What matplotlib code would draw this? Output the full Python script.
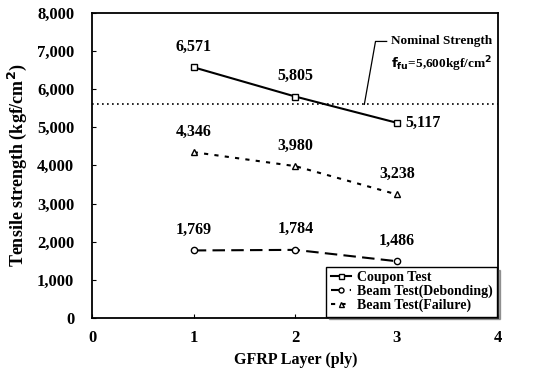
import matplotlib.pyplot as plt
import numpy as np

plt.rcParams['font.family'] = ['Liberation Serif', 'DejaVu Serif']
plt.rcParams['font.weight'] = 'bold'

layers = [1, 2, 3]
coupon = [6571, 5805, 5117]
debonding = [1769, 1784, 1486]
failure = [4346, 3980, 3238]
nominal = 5600

fig = plt.figure(figsize=(5.33, 3.78), dpi=100)
ax = fig.add_axes([0.173, 0.159, 0.762, 0.807])

ax.axhline(nominal, color='black', linestyle=(0, (1, 2)), linewidth=1.2)
ax.plot(layers, coupon, 'k-', marker='s', mfc='white', ms=4.5, lw=1.5, label='Coupon Test')
ax.plot(layers, debonding, 'k', linestyle=(0, (6, 3)), marker='o', mfc='white', ms=4.5, lw=1.5,
        label='Beam Test(Debonding)')
ax.plot(layers, failure, 'k', linestyle=(0, (2, 3)), marker='^', mfc='white', ms=4.5, lw=1.5,
        label='Beam Test(Failure)')

for series in (coupon, debonding, failure):
    for i, (x, y) in enumerate(zip(layers, series)):
        if series is coupon and i == 2:
            ax.text(x + 0.08, y, f'{y:,}', ha='left', va='center', fontsize=11.5)
        else:
            ax.text(x, y + 330, f'{y:,}', ha='center', va='bottom', fontsize=11.5)

# nominal strength callout
ax.plot([2.68, 2.79, 2.90], [nominal, 7250, 7250], color='black', lw=0.9)
ax.text(2.94, 7250, 'Nominal Strength', ha='left', va='center', fontsize=9.5)
ax.text(2.94, 6650, r'$\mathbf{f_{fu}}$=5,600kgf/cm$^{\mathbf{2}}$', ha='left', va='center',
        fontsize=9.5)

ax.set_xlim(0, 4)
ax.set_ylim(0, 8000)
ax.set_xticks([0, 1, 2, 3, 4])
ax.set_yticks(np.arange(0, 8001, 1000))
ax.set_yticklabels([f'{v:,}' for v in range(0, 8001, 1000)])
ax.tick_params(labelsize=12, direction='in', length=3)
for lab in ax.get_xticklabels() + ax.get_yticklabels():
    lab.set_fontweight('bold')
ax.tick_params(axis='x', pad=9)
ax.tick_params(axis='y', pad=13)
for s in ax.spines.values():
    s.set_linewidth(1.3)

ax.set_xlabel('GFRP Layer (ply)', fontsize=11.5, fontweight='bold', labelpad=4)
ax.set_ylabel(r'Tensile strength (kgf/cm$^{\mathbf{2}}$)', fontsize=13, fontweight='bold', labelpad=6)

leg = ax.legend(loc='lower right', fontsize=10, frameon=True, fancybox=False, shadow=True,
                borderpad=0.3, labelspacing=0.05, handlelength=1.5, handletextpad=0.4,
                borderaxespad=0.1, markerscale=0.8)
leg.get_frame().set_edgecolor('black')
leg.get_frame().set_linewidth(1.0)

fig.savefig('out.png', dpi=100)
